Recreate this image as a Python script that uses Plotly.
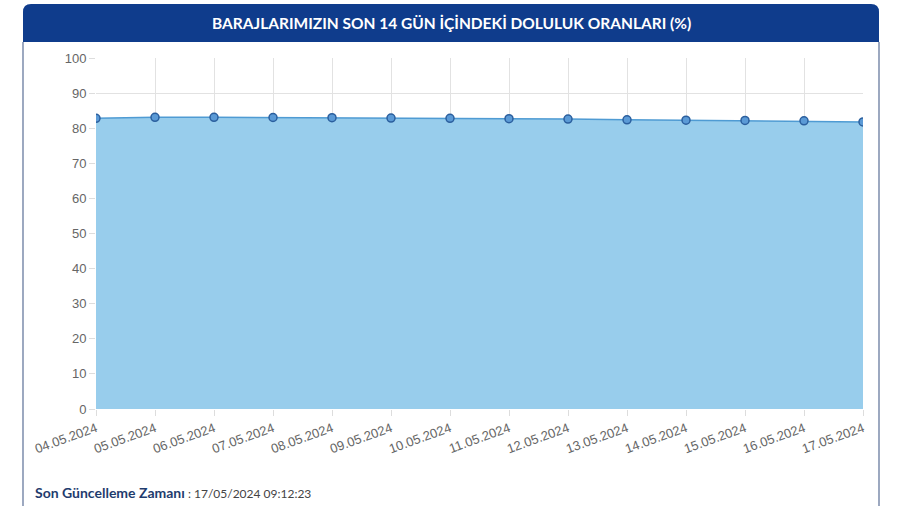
import plotly.graph_objects as go

dates = ["04.05.2024", "05.05.2024", "06.05.2024", "07.05.2024", "08.05.2024",
         "09.05.2024", "10.05.2024", "11.05.2024", "12.05.2024", "13.05.2024",
         "14.05.2024", "15.05.2024", "16.05.2024", "17.05.2024"]
doluluk = [82.8, 83.1, 83.1, 83.05, 83.0, 82.9, 82.8, 82.7, 82.6, 82.4,
           82.3, 82.2, 82.1, 81.8]
title_text = "BARAJLARIMIZIN SON 14 GÜN İÇİNDEKİ DOLULUK ORANLARI (%)"
footer_label = "Son Güncelleme Zamanı"
footer_value = " : 17/05/2024 09:12:23"

W, H = 900, 506
L, R, T, B = 96, 863, 58, 409

def px(x):
    return (x - L) / (R - L)

def py(y):
    return (B - y) / (B - T)

fig = go.Figure()
fig.add_trace(go.Scatter(
    x=list(range(len(dates))), y=doluluk,
    mode="lines+markers",
    fill="tozeroy",
    fillcolor="rgba(152,205,236,1)",
    line=dict(color="#4f9bd3", width=1.5),
    marker=dict(symbol="circle", size=8, color="#5b9ad6",
                line=dict(color="#2b5f9e", width=1.5)),
    hoverinfo="skip",
    showlegend=False,
))

# header with rounded top corners
x0, x1 = px(23), px(879)
y0, y1 = py(42), py(4)
rx = 8 / (R - L)
ry = 8 / (B - T)
path = (f"M {x0},{y0} L {x0},{y1 - ry} Q {x0},{y1} {x0 + rx},{y1} "
        f"L {x1 - rx},{y1} Q {x1},{y1} {x1},{y1 - ry} L {x1},{y0} Z")
shapes = [
    dict(type="path", path=path, xref="paper", yref="paper",
         fillcolor="#0f3c8c", line=dict(width=0), layer="above"),
    dict(type="line", xref="paper", yref="paper", x0=px(23), x1=px(23),
         y0=py(42), y1=py(506), line=dict(color="#5b6f96", width=1.2)),
    dict(type="line", xref="paper", yref="paper", x0=px(879), x1=px(879),
         y0=py(42), y1=py(506), line=dict(color="#5b6f96", width=1.2)),
]

annotations = [
    dict(text=f"<b>{title_text}</b>", xref="paper", yref="paper",
         x=px(451), y=py(23), showarrow=False, xanchor="center", yanchor="middle",
         font=dict(family="Lato, Noto Sans", size=15.5, color="white")),
    dict(text=(f"<b>{footer_label}</b>"
               f"<span style='color:#444;font-size:12px'>{footer_value}</span>"),
         xref="paper", yref="paper", x=px(33), y=py(492), showarrow=False,
         xanchor="left", yanchor="middle",
         font=dict(family="Lato, Noto Sans", size=14, color="#1f3c6e")),
]

fig.update_layout(
    width=W, height=H,
    margin=dict(l=L, r=W - R, t=T, b=H - B),
    paper_bgcolor="white", plot_bgcolor="white",
    shapes=shapes, annotations=annotations,
    font=dict(family="Liberation Sans, Arial", color="#666"),
)
fig.update_xaxes(
    range=[0, len(dates) - 1],
    tickmode="array", tickvals=list(range(len(dates))), ticktext=dates,
    tickangle=-20, tickfont=dict(size=13, color="#666"),
    showgrid=True, gridcolor="#e2e2e2", gridwidth=1,
    ticks="outside", ticklen=6, tickcolor="#ddd",
    zeroline=False, showline=False,
)
fig.update_yaxes(
    range=[0, 100], dtick=10,
    tickfont=dict(size=13, color="#666"),
    showgrid=True, gridcolor="#e2e2e2", gridwidth=1,
    ticks="outside", ticklen=6, tickcolor="#ddd",
    zeroline=False, showline=False,
)

fig.write_html("out.html", config={"displayModeBar": False},
               post_script="document.body.style.margin='0';")
